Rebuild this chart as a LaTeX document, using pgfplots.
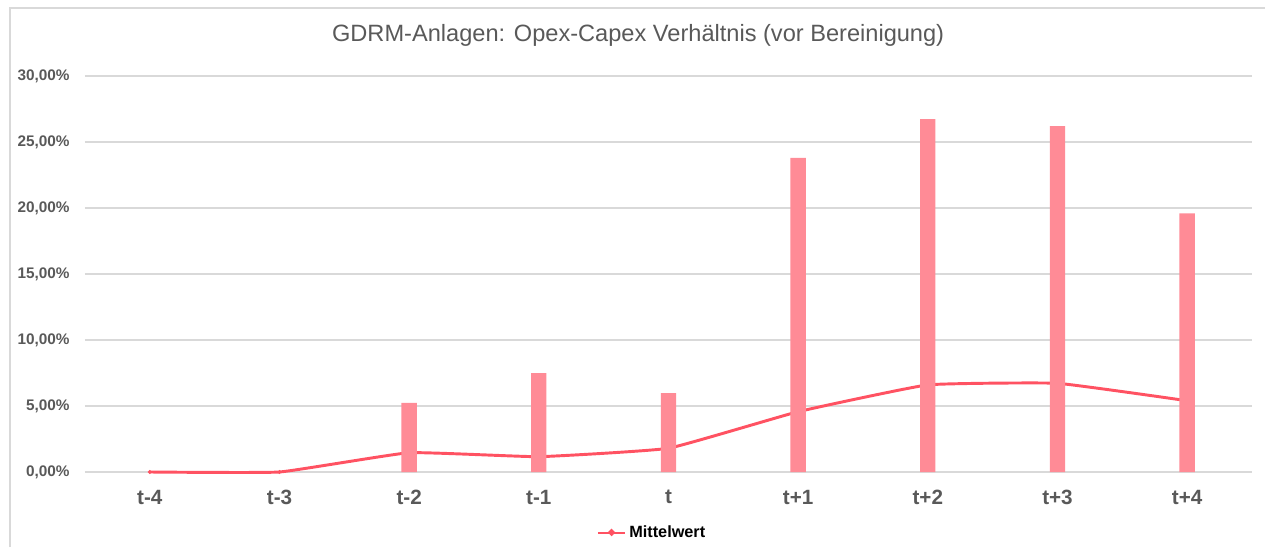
\documentclass[border=0pt]{standalone}
\usepackage{pgfplots}
\pgfplotsset{compat=1.18}
\usepackage{fontspec}
\setmainfont{Liberation Sans}
\definecolor{barc}{RGB}{255,139,150}
\definecolor{linec}{RGB}{255,82,98}
\definecolor{gridc}{RGB}{217,217,217}
\definecolor{txt}{RGB}{89,89,89}
\begin{document}
\begin{tikzpicture}
\begin{axis}[
  scale only axis, width=875.25pt, height=297pt,
  xmin=-0.5, xmax=8.5, ymin=0, ymax=30,
  xtick={0,...,8}, xticklabels={t-4,t-3,t-2,t-1,t,t+1,t+2,t+3,t+4},
  ytick={0,5,...,30},
  yticklabels={{0,00\%},{5,00\%},{10,00\%},{15,00\%},{20,00\%},{25,00\%},{30,00\%}},
  axis line style={draw=none}, major tick length=0pt,
  ymajorgrids, grid style={gridc, line width=1.1pt},
  xticklabel style={font=\bfseries\fontsize{15.5}{18}\selectfont, text=txt, yshift=-10pt},
  yticklabel style={font=\bfseries\fontsize{11.5}{14}\selectfont, text=txt, xshift=-8pt},
  clip=false,
  legend style={at={(0.486,-0.154)}, anchor=center, draw=none, fill=none,
    font=\bfseries\fontsize{12.2}{14}\selectfont},
  legend image code/.code={
    \draw[linec, line width=2.2pt] (0cm,0cm) -- (0.72cm,0cm);
    \fill[linec] (0.36cm,0.4pt) circle (1.3pt);},
]
\addplot[linec, line width=2.2pt, smooth, tension=0.2, mark=none]
  coordinates {(0,0) (1,0) (2,1.46) (3,1.16) (4,1.8) (5,4.57) (6,6.6) (7,6.72) (8,5.4)};
\addlegendentry{Mittelwert}
\addplot[linec, only marks, mark=*, mark size=1.3pt, forget plot]
  coordinates {(0,0) (1,0)};
\addplot[ybar, bar width=11.5pt, bar shift=0pt, fill=barc, draw=none, forget plot]
  coordinates {(2,5.23) (3,7.5) (4,5.98) (5,23.8) (6,26.74) (7,26.2) (8,19.6)};
\node[text=txt, font=\fontsize{17.7}{20}\selectfont] at (rel axis cs:0.474,1.1035)
  {GDRM-Anlagen: Opex-Capex Verhältnis (vor Bereinigung)};
\end{axis}
\coordinate (BL) at ([xshift=-63.75pt,yshift=-56.25pt]current axis.south west);
\path[use as bounding box] (BL) rectangle ++(948.75pt,410.25pt);
\draw[gridc, line width=1.2pt] (BL) ++(7.5pt,0) -- ++(0,404.25pt) -- ++(941.25pt,0);
\end{tikzpicture}
\end{document}
